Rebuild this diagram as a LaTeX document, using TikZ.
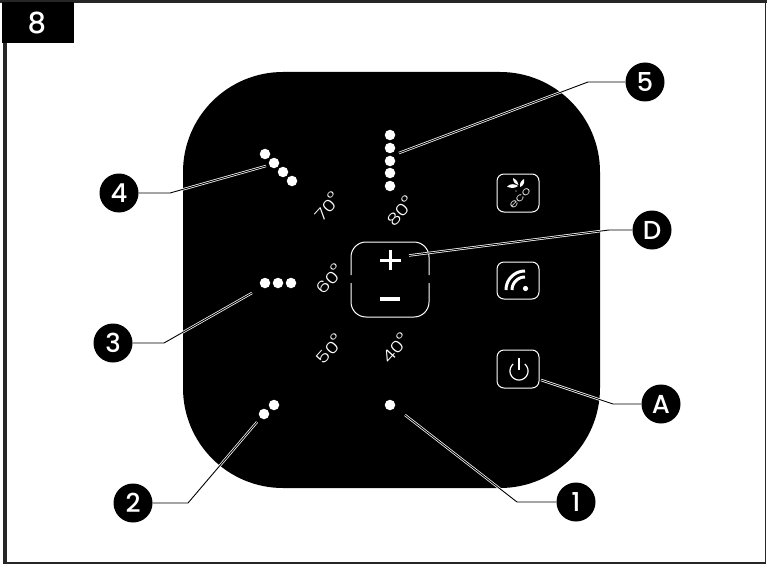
\documentclass[tikz,border=0pt]{standalone}
\usepackage{fontspec}
\setmainfont{Poppins}
\newfontfamily\lightf{Poppins Light}
\newfontfamily\semif{Poppins Medium}
\newcommand{\wide}[1]{\scalebox{1.25}[1]{#1}}
\newcommand{\degmark}{\hspace{-0.5pt}\raisebox{3.5pt}{°}}
\tikzset{
  x=1pt,y=-1pt,
  callout/.style={circle,fill=black,text=white,inner sep=0pt,minimum size=39pt,font=\semif\fontsize{26}{26}\selectfont},
  leadw/.style={draw=white,line width=2.4pt},
  leadb/.style={draw=black,line width=0.9pt},
  temp/.style={rotate=48,text=white,inner sep=0pt,font=\lightf\fontsize{16}{16}\selectfont},
  ledot/.style={circle,fill=white,inner sep=0pt,minimum size=10.5pt},
  iconbox/.style={draw=white,line width=1pt,rounded corners=7pt},
  leaf/.style={fill=white,draw=none},
}
\begin{document}
\begin{tikzpicture}
\useasboundingbox (0,0) rectangle (767,564);
\fill[white] (0,0) rectangle (767,564);
\fill[black!85] (0,0.5) rectangle (767,3);
\fill[black!85] (2.5,0.5) rectangle (7,564);
\fill[black!85] (764.5,0.5) rectangle (766,564);
\fill[black!85] (2.5,561.5) rectangle (766,563.5);
\fill[black] (2,2) rectangle (74,43);
\node[text=white,font=\semif\fontsize{29}{29}\selectfont] (num) at (37,23) {8};
\fill[black,rounded corners=100pt] (183,72) rectangle (600,488);
% plus/minus key
\draw[white,line width=1pt,rounded corners=15pt] (351,275) -- (351,242) -- (429,242) -- (429,275);
\draw[white,line width=1pt,rounded corners=15pt] (351,283) -- (351,317) -- (429,317) -- (429,283);
\fill[white] (380,258.5) rectangle (401,262);
\fill[white] (388.7,249.5) rectangle (392.2,270);
\fill[white] (380,297) rectangle (400,300.5);
\draw[iconbox] (497,174) rectangle (539,212);
\draw[iconbox] (497,262) rectangle (539,299);
\draw[iconbox] (497,350) rectangle (539,388);
% power
\draw[white,line width=1.2pt] (519,358) -- (519,370);
\draw[white,line width=1.2pt] plot[domain=-50:230,samples=40,smooth] ({519+9*cos(\x)},{371+9*sin(\x)});
% wifi
\fill[white] (525.5,288.5) circle[radius=2.6pt];
\draw[white,line width=3pt] plot[domain=180:270,samples=20,smooth] ({525+19*cos(\x)},{290+19*sin(\x)});
\draw[white,line width=3pt] plot[domain=180:270,samples=20,smooth] ({525+13*cos(\x)},{290+13*sin(\x)});
% eco
\fill[leaf] (507,186.5) .. controls (511,183) and (515,184) .. (518,186) .. controls (514,189) and (510,188) .. (507,186.5);
\fill[leaf] (513,178) .. controls (517,180) and (518,182) .. (518.5,185) .. controls (515,184) and (513,182) .. (513,178);
\fill[leaf] (524,179) .. controls (525,183) and (523,186) .. (520,187) .. controls (519.5,183) and (521,181) .. (524,179);
\fill[leaf] (516,191) circle[radius=0.6pt];
\node[rotate=45,text=white,inner sep=0pt,font=\lightf\fontsize{11}{11}\selectfont] (eco) at (520,198) {\wide{eco}};
% dots
\foreach \p in {(390,135),(390,148),(390,161),(390,173),(390,186),
  (265,154),(274,163),(283,172),(292,181),(265,283),(278,283),(291,283),
  (274,405),(264,414),(390,405)} \node[ledot] at \p {};
% temps
\node[temp] (t80) at (400,211) {\wide{80\degmark}};
\node[temp] (t70) at (327,206) {\wide{70\degmark}};
\node[temp] (t60) at (329,279) {\wide{60\degmark}};
\node[temp] (t50) at (329,349) {\wide{50\degmark}};
\node[temp] (t40) at (395,348) {\wide{40\degmark}};
% callouts
\node[callout] (c1) at (576,502) {1};
\node[callout] (c2) at (133,503) {2};
\node[callout] (c3) at (113,343) {3};
\node[callout] (c4) at (119,193) {4};
\node[callout] (c5) at (645,82) {5};
\node[callout] (cA) at (661,404) {A};
\node[callout] (cD) at (652,230) {D};
\coordinate (k1) at (517,502); \coordinate (e1) at (405,415);
\coordinate (k2) at (188,503); \coordinate (e2) at (257,422);
\coordinate (k3) at (164,343); \coordinate (e3) at (252,293);
\coordinate (k4) at (170,193); \coordinate (e4) at (266,166);
\coordinate (k5) at (588,82);  \coordinate (e5) at (399,153);
\coordinate (kA) at (613,404); \coordinate (eA) at (541,380);
\coordinate (kD) at (609,230); \coordinate (eD) at (409,255.5);
\foreach \n in {1,2,3,4,5,A,D}{
  \draw[leadw] (k\n) -- (e\n);
  \draw[leadb] (c\n) -- (k\n) -- (e\n);
}
\end{tikzpicture}
\end{document}
